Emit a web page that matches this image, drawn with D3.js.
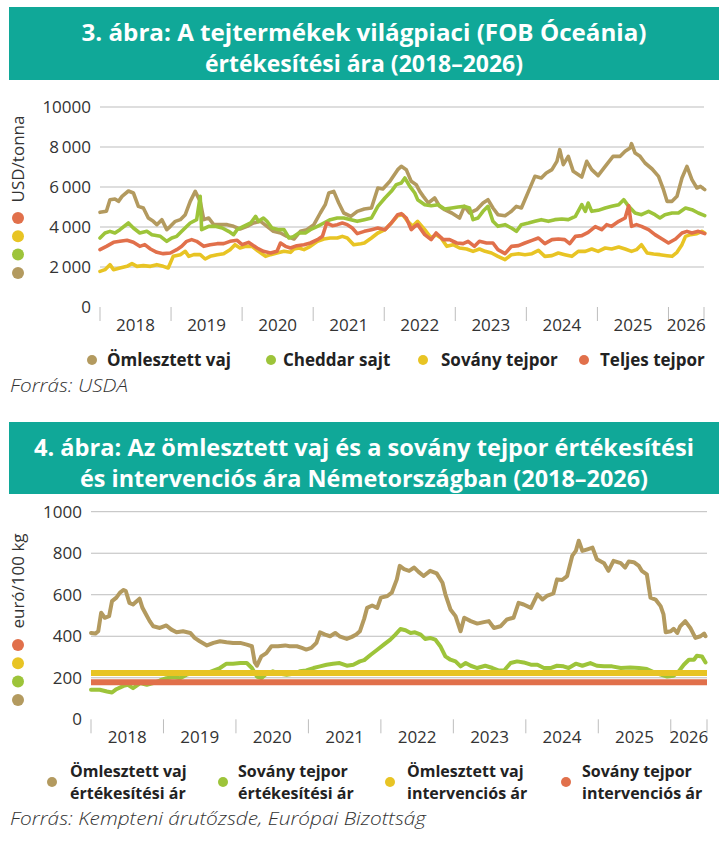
<!DOCTYPE html>
<html>
<head>
<meta charset="utf-8">
<script src="https://cdn.jsdelivr.net/npm/d3@7"></script>
<style>
body { margin: 0; background: #fff; }
text { font-family: "Open Sans", "DejaVu Sans", sans-serif; }
</style>
</head>
<body>
<svg id="page" width="728" height="855"></svg>
<script>
// szinek
var colBrown = "#b39a5f", colGreen = "#9dc43a", colYellow = "#e8c424", colRed = "#e1704b";
var teal = "#10a898";

// evek (x tengely), t = 2018 ota eltelt evek
var yearLabels = ["2018", "2019", "2020", "2021", "2022", "2023", "2024", "2025", "2026"];
var yearTicks = [0, 1, 2, 3, 4, 5, 6, 7, 8, 8.5];

// 3. abra - USD/tonna
var yTicks1 = [0, 2000, 4000, 6000, 8000, 10000];
var yTickLabels1 = ["0", "2\u2009000", "4\u2009000", "6\u2009000", "8\u2009000", "10000"];
var legend1 = ["Ömlesztett vaj", "Cheddar sajt", "Sovány tejpor", "Teljes tejpor"];

var vajFob = [[0.00,4733],[0.09,4783],[0.14,5367],[0.21,5400],[0.26,5283],[0.31,5533],[0.40,5800],[0.47,5700],[0.54,5033],[0.61,4950],[0.68,4450],[0.75,4283],[0.80,4117],[0.87,4367],[0.94,3867],[0.99,4033],[1.06,4283],[1.13,4367],[1.20,4617],[1.27,5283],[1.34,5783],[1.41,5283],[1.46,4367],[1.53,4450],[1.60,4117],[1.69,4117],[1.79,4117],[1.88,4033],[1.97,3900],[2.07,4033],[2.16,4200],[2.26,4283],[2.35,4033],[2.44,3783],[2.54,3700],[2.63,3533],[2.73,3400],[2.82,3783],[2.91,3867],[3.01,4117],[3.10,4700],[3.17,5117],[3.22,5700],[3.29,5783],[3.36,5200],[3.43,4700],[3.53,4533],[3.62,4783],[3.72,4900],[3.82,4950],[3.91,5950],[3.98,5900],[4.08,6283],[4.19,6867],[4.24,7033],[4.31,6867],[4.38,6283],[4.45,6117],[4.50,5783],[4.55,5533],[4.62,5200],[4.71,5450],[4.78,5033],[4.85,4867],[4.95,4700],[5.06,4450],[5.13,5033],[5.20,4700],[5.30,4867],[5.39,5200],[5.46,5367],[5.53,4950],[5.60,4617],[5.70,4567],[5.79,4783],[5.86,5033],[5.93,4950],[6.03,5783],[6.12,6533],[6.21,6450],[6.28,6700],[6.36,6867],[6.43,7283],[6.47,7867],[6.52,7117],[6.59,7533],[6.66,6783],[6.78,6500],[6.85,7283],[6.92,6867],[7.01,6567],[7.11,7033],[7.22,7533],[7.32,7533],[7.39,7783],[7.46,7950],[7.48,8167],[7.53,7700],[7.60,7533],[7.67,7200],[7.77,6900],[7.86,6533],[7.93,5867],[7.98,5283],[8.05,5283],[8.12,5533],[8.19,6450],[8.26,7033],[8.33,6367],[8.40,5950],[8.45,6033],[8.51,5867]];

var cheddar = [[0.00,3450],[0.07,3700],[0.14,3783],[0.21,3700],[0.28,3867],[0.40,4200],[0.47,3950],[0.56,3700],[0.66,3783],[0.73,3617],[0.85,3533],[0.94,3283],[1.01,3450],[1.08,3533],[1.15,3783],[1.27,4200],[1.36,4367],[1.41,5533],[1.43,3867],[1.53,4033],[1.62,4033],[1.72,3950],[1.81,3783],[1.88,3617],[1.93,3867],[2.02,4033],[2.12,4200],[2.19,4533],[2.23,4283],[2.30,4450],[2.35,4283],[2.42,3950],[2.52,3867],[2.59,3867],[2.66,3450],[2.73,3533],[2.80,3700],[2.89,3700],[2.96,3867],[3.06,4033],[3.15,4200],[3.24,4367],[3.34,4450],[3.43,4450],[3.53,4367],[3.62,4283],[3.72,4367],[3.82,4450],[3.91,5033],[4.01,5450],[4.10,5783],[4.17,6117],[4.24,6200],[4.29,6450],[4.36,6033],[4.43,5700],[4.47,5367],[4.57,5117],[4.66,5067],[4.76,5117],[4.85,4900],[4.95,4950],[5.04,5000],[5.13,5033],[5.20,4950],[5.25,4367],[5.32,4450],[5.39,4783],[5.46,5033],[5.53,4283],[5.60,4033],[5.70,4117],[5.79,3950],[5.86,3783],[5.93,4117],[6.03,4200],[6.12,4283],[6.21,4367],[6.31,4283],[6.40,4367],[6.50,4400],[6.59,4367],[6.69,4533],[6.78,5117],[6.83,4783],[6.87,5200],[6.92,4783],[7.01,4833],[7.11,4950],[7.20,5033],[7.30,5117],[7.37,5367],[7.44,5033],[7.53,4700],[7.62,4617],[7.72,4783],[7.81,4617],[7.88,4450],[7.95,4617],[8.05,4700],[8.14,4700],[8.24,4950],[8.33,4867],[8.42,4700],[8.51,4567]];

var sovanyFob = [[0.00,1783],[0.07,1867],[0.14,2117],[0.19,1867],[0.28,1950],[0.38,2033],[0.45,2167],[0.52,2033],[0.61,2067],[0.71,2033],[0.80,2117],[0.89,2033],[0.96,1950],[1.03,2533],[1.13,2617],[1.20,2783],[1.25,2533],[1.32,2617],[1.41,2617],[1.48,2400],[1.55,2533],[1.65,2617],[1.74,2667],[1.83,2867],[1.90,3117],[1.97,2950],[2.05,3033],[2.14,3033],[2.23,2783],[2.33,2533],[2.40,2617],[2.49,2700],[2.59,2783],[2.68,2733],[2.73,2900],[2.80,2950],[2.87,2867],[2.96,3033],[3.06,3283],[3.15,3400],[3.24,3450],[3.34,3450],[3.41,3533],[3.48,3450],[3.57,3117],[3.67,3167],[3.72,3200],[3.82,3450],[3.91,3700],[4.01,3867],[4.10,4200],[4.19,4567],[4.26,4617],[4.33,4283],[4.40,4033],[4.47,4283],[4.57,3867],[4.66,3450],[4.73,3617],[4.80,3450],[4.88,3033],[4.97,3117],[5.06,2950],[5.16,2900],[5.25,2783],[5.34,2900],[5.42,2783],[5.51,2700],[5.60,2533],[5.70,2367],[5.79,2617],[5.89,2667],[5.98,2617],[6.08,2667],[6.17,2833],[6.26,2533],[6.36,2567],[6.45,2700],[6.54,2617],[6.64,2533],[6.73,2783],[6.83,2783],[6.92,2900],[7.01,2783],[7.11,2950],[7.20,2900],[7.30,3000],[7.39,2900],[7.48,2783],[7.55,2867],[7.62,3117],[7.70,2700],[7.79,2650],[7.88,2617],[7.98,2567],[8.05,2533],[8.12,2733],[8.19,3117],[8.24,3533],[8.31,3617],[8.40,3667],[8.47,3783],[8.51,3700]];

var teljesFob = [[0.00,2867],[0.09,3033],[0.19,3233],[0.28,3283],[0.38,3333],[0.47,3233],[0.56,3033],[0.63,3117],[0.71,2900],[0.80,2733],[0.89,2667],[0.99,2700],[1.08,2867],[1.15,3033],[1.22,3283],[1.29,3367],[1.36,3283],[1.46,3033],[1.55,3117],[1.65,3167],[1.74,3167],[1.83,3283],[1.93,3333],[2.00,3117],[2.09,3233],[2.21,2950],[2.30,2783],[2.40,2700],[2.49,2783],[2.54,3200],[2.61,3033],[2.68,2950],[2.77,3067],[2.87,3117],[2.96,3200],[3.06,3367],[3.13,3533],[3.19,4200],[3.27,4067],[3.34,4117],[3.41,4200],[3.48,4117],[3.55,3950],[3.62,3667],[3.72,3783],[3.82,3867],[3.91,3950],[4.01,3867],[4.10,4200],[4.19,4617],[4.24,4667],[4.31,4450],[4.38,3867],[4.43,4033],[4.47,4117],[4.57,3617],[4.66,3367],[4.73,3700],[4.83,3367],[4.92,3367],[5.02,3200],[5.11,3167],[5.18,3283],[5.27,3033],[5.34,3283],[5.44,3200],[5.53,3200],[5.60,2867],[5.70,2667],[5.79,3033],[5.89,3067],[5.98,3200],[6.08,3333],[6.17,3450],[6.26,3167],[6.36,3367],[6.45,3400],[6.54,3367],[6.61,3167],[6.69,3533],[6.78,3567],[6.87,3733],[6.97,4017],[7.06,3867],[7.13,4117],[7.20,4033],[7.30,4283],[7.39,4450],[7.44,5067],[7.48,4033],[7.55,4117],[7.62,4033],[7.72,3867],[7.81,3617],[7.91,3400],[8.00,3200],[8.10,3400],[8.19,3700],[8.26,3783],[8.33,3700],[8.42,3783],[8.51,3667]];

// 4. abra - euro/100 kg
var yTicks2 = [0, 200, 400, 600, 800, 1000];
var yTickLabels2 = ["0", "200", "400", "600", "800", "1000"];
var legend2 = [["Ömlesztett vaj", "értékesítési ár"], ["Sovány tejpor", "értékesítési ár"], ["Ömlesztett vaj", "intervenciós ár"], ["Sovány tejpor", "intervenciós ár"]];

var vajDe = [[0.00,416],[0.06,413],[0.10,424],[0.14,513],[0.19,489],[0.25,497],[0.29,569],[0.35,586],[0.40,610],[0.45,623],[0.48,618],[0.53,561],[0.58,553],[0.63,569],[0.67,581],[0.71,537],[0.76,505],[0.81,473],[0.86,448],[0.95,440],[1.04,452],[1.11,432],[1.18,419],[1.27,424],[1.37,416],[1.43,392],[1.50,376],[1.60,356],[1.69,368],[1.78,376],[1.87,371],[1.96,368],[2.06,368],[2.15,360],[2.22,352],[2.26,274],[2.29,258],[2.35,303],[2.42,319],[2.49,352],[2.58,352],[2.68,356],[2.74,352],[2.84,352],[2.91,344],[2.97,336],[3.04,344],[3.11,368],[3.16,419],[3.23,408],[3.30,400],[3.37,416],[3.43,400],[3.53,387],[3.60,397],[3.66,408],[3.71,424],[3.77,485],[3.81,537],[3.88,548],[3.95,537],[4.00,586],[4.09,594],[4.15,610],[4.22,674],[4.26,739],[4.32,723],[4.39,715],[4.46,731],[4.52,710],[4.59,690],[4.68,715],[4.77,703],[4.85,658],[4.89,602],[4.96,529],[5.03,497],[5.10,424],[5.15,489],[5.24,473],[5.33,461],[5.42,468],[5.49,473],[5.56,440],[5.65,448],[5.74,481],[5.83,489],[5.90,561],[5.97,553],[6.07,537],[6.16,602],[6.23,577],[6.29,594],[6.38,606],[6.43,674],[6.50,671],[6.57,690],[6.64,787],[6.69,811],[6.73,860],[6.78,811],[6.85,819],[6.92,827],[6.98,771],[7.08,752],[7.14,715],[7.21,763],[7.31,752],[7.37,731],[7.42,760],[7.49,757],[7.56,739],[7.60,715],[7.67,698],[7.72,586],[7.79,577],[7.86,545],[7.90,505],[7.93,419],[8.00,424],[8.04,436],[8.09,416],[8.13,448],[8.20,473],[8.27,440],[8.34,392],[8.41,400],[8.46,413],[8.48,400]];

var sovanyDe = [[0.00,142],[0.12,142],[0.22,134],[0.29,129],[0.35,145],[0.45,161],[0.51,166],[0.58,150],[0.68,174],[0.77,166],[0.86,174],[0.95,187],[1.04,198],[1.14,203],[1.23,198],[1.32,215],[1.41,223],[1.50,219],[1.60,223],[1.69,235],[1.78,247],[1.87,268],[1.96,268],[2.06,271],[2.15,271],[2.22,247],[2.29,206],[2.35,198],[2.42,219],[2.51,231],[2.61,219],[2.70,215],[2.79,219],[2.88,231],[2.97,235],[3.07,247],[3.16,255],[3.25,263],[3.34,268],[3.43,271],[3.53,258],[3.62,263],[3.71,279],[3.77,285],[3.86,311],[3.95,335],[4.04,360],[4.13,384],[4.20,408],[4.27,435],[4.34,429],[4.41,416],[4.47,419],[4.55,408],[4.61,387],[4.68,392],[4.75,384],[4.82,352],[4.89,303],[4.96,287],[5.03,279],[5.10,255],[5.17,271],[5.24,258],[5.33,247],[5.44,258],[5.54,247],[5.63,235],[5.70,235],[5.79,271],[5.88,279],[5.97,274],[6.07,263],[6.16,263],[6.25,247],[6.34,247],[6.43,258],[6.52,255],[6.59,247],[6.69,268],[6.78,258],[6.89,271],[6.98,258],[7.08,255],[7.19,255],[7.31,247],[7.44,250],[7.56,247],[7.67,242],[7.77,226],[7.86,215],[7.95,206],[8.04,210],[8.11,231],[8.18,263],[8.25,287],[8.32,287],[8.36,306],[8.43,303],[8.48,274]];

var vajIntervencio = [[0, 223], [8.5, 223]];
var sovanyIntervencio = [[0, 179], [8.5, 179]];

var svg = d3.select("#page");

// fejlec savok
function drawBanner(y, h, lines, widths) {
    svg.append("rect")
        .attr("x", 9).attr("y", y)
        .attr("width", 710).attr("height", h)
        .attr("fill", teal);
    lines.forEach(function (t, i) {
        svg.append("text")
            .attr("x", 364)
            .attr("y", y + 26 + i * 31)
            .attr("dy", "0.35em")
            .attr("text-anchor", "middle")
            .attr("fill", "#fff")
            .attr("font-size", 24)
            .attr("font-weight", 700)
            .attr("textLength", widths[i])
            .attr("lengthAdjust", "spacingAndGlyphs")
            .text(t);
    });
}

function drawChart(cfg) {
    var x = d3.scaleLinear().domain([0, 8.5]).range([cfg.left, cfg.right]);
    var y = d3.scaleLinear().domain([0, cfg.max]).range([cfg.bottom, cfg.top]);
    var g = svg.append("g");

    // racsvonalak
    g.selectAll("line.grid")
        .data(cfg.yTicks.filter(function (d) { return d > 0; }))
        .enter().append("line")
        .attr("x1", cfg.left).attr("x2", cfg.right)
        .attr("y1", function (d) { return y(d); })
        .attr("y2", function (d) { return y(d); })
        .attr("stroke", "#bdbdbd").attr("stroke-width", 1);

    g.selectAll("text.ytick")
        .data(cfg.yTicks)
        .enter().append("text")
        .attr("x", cfg.left - 9)
        .attr("y", function (d) { return y(d); })
        .attr("dy", "0.35em")
        .attr("text-anchor", "end")
        .attr("font-size", 17)
        .attr("fill", "#333")
        .text(function (d, i) { return cfg.yLabels[i]; });

    // ev elvalaszto jelek
    g.selectAll("line.xtick")
        .data(yearTicks)
        .enter().append("line")
        .attr("x1", function (d) { return x(d); })
        .attr("x2", function (d) { return x(d); })
        .attr("y1", cfg.bottom).attr("y2", cfg.bottom + 14)
        .attr("stroke", "#bdbdbd").attr("stroke-width", 1);

    g.selectAll("text.year")
        .data(yearLabels)
        .enter().append("text")
        .attr("x", function (d, i) { return x((yearTicks[i] + yearTicks[i + 1]) / 2); })
        .attr("y", cfg.bottom + 18)
        .attr("dy", "0.35em")
        .attr("text-anchor", "middle")
        .attr("font-size", 17)
        .attr("fill", "#333")
        .text(function (d) { return d; });

    var line = d3.line()
        .x(function (d) { return x(d[0]); })
        .y(function (d) { return y(d[1]); })
        .curve(d3.curveLinear);

    cfg.series.forEach(function (s) {
        g.append("path")
            .datum(s.data)
            .attr("d", line)
            .attr("fill", "none")
            .attr("stroke", s.color)
            .attr("stroke-width", s.width)
            .attr("stroke-linejoin", "round")
            .attr("stroke-linecap", s.cap || "round");
    });

    // y tengely felirat es pottyok
    g.append("text")
        .attr("transform", "translate(18," + cfg.titleY + ") rotate(-90)")
        .attr("dy", "0.35em")
        .attr("text-anchor", "middle")
        .attr("font-size", 17)
        .attr("fill", "#333")
        .text(cfg.yTitle);

    g.selectAll("circle.ydot")
        .data([colRed, colYellow, colGreen, colBrown])
        .enter().append("circle")
        .attr("cx", 18)
        .attr("cy", function (d, i) { return cfg.dotY + i * 18.3; })
        .attr("r", 6)
        .attr("fill", function (d) { return d; });
}

drawBanner(7, 73, ["3. ábra: A tejtermékek világpiaci (FOB Óceánia)", "értékesítési ára (2018–2026)"], [565, 318]);
drawBanner(422, 72, ["4. ábra: Az ömlesztett vaj és a sovány tejpor értékesítési", "és intervenciós ára Németországban (2018–2026)"], [660, 568]);

drawChart({
    left: 100, right: 704, top: 107, bottom: 307, max: 10000,
    yTicks: yTicks1, yLabels: yTickLabels1,
    yTitle: "USD/tonna", titleY: 159, dotY: 218,
    series: [
        {data: vajFob, color: colBrown, width: 3.6},
        {data: cheddar, color: colGreen, width: 3.6},
        {data: sovanyFob, color: colYellow, width: 3.6},
        {data: teljesFob, color: colRed, width: 3.6}
    ]
});

drawChart({
    left: 91, right: 707, top: 511.7, bottom: 719.3, max: 1000,
    yTicks: yTicks2, yLabels: yTickLabels2,
    yTitle: "euró/100 kg", titleY: 581, dotY: 645,
    series: [
        {data: vajDe, color: colBrown, width: 4},
        {data: sovanyDe, color: colGreen, width: 4},
        {data: vajIntervencio, color: colYellow, width: 6, cap: "butt"},
        {data: sovanyIntervencio, color: colRed, width: 6, cap: "butt"}
    ]
});

// jelmagyarazat 1
var leg1 = svg.append("g");
var leg1Pos = [[92, 107], [271, 283], [423, 441], [584, 600]];
[colBrown, colGreen, colYellow, colRed].forEach(function (c, i) {
    leg1.append("circle").attr("cx", leg1Pos[i][0]).attr("cy", 360).attr("r", 5).attr("fill", c);
    leg1.append("text")
        .attr("x", leg1Pos[i][1]).attr("y", 360).attr("dy", "0.35em")
        .attr("font-size", 17).attr("font-weight", 700).attr("fill", "#222")
        .text(legend1[i]);
});

svg.append("text")
    .attr("x", 10).attr("y", 386).attr("dy", "0.35em")
    .attr("font-size", 18).attr("font-style", "italic").attr("font-weight", 300).attr("fill", "#333")
    .attr("textLength", 118).attr("lengthAdjust", "spacingAndGlyphs")
    .text("Forrás: USDA");

// jelmagyarazat 2
var leg2 = svg.append("g");
var leg2Pos = [[52, 70], [223, 238], [390, 407], [566, 582]];
[colBrown, colGreen, colYellow, colRed].forEach(function (c, i) {
    leg2.append("circle").attr("cx", leg2Pos[i][0]).attr("cy", 782).attr("r", 5).attr("fill", c);
    legend2[i].forEach(function (t, j) {
        leg2.append("text")
            .attr("x", leg2Pos[i][1]).attr("y", 771 + j * 22).attr("dy", "0.35em")
            .attr("font-size", 16).attr("font-weight", 700).attr("fill", "#222")
            .text(t);
    });
});

svg.append("text")
    .attr("x", 10).attr("y", 819).attr("dy", "0.35em")
    .attr("font-size", 18).attr("font-style", "italic").attr("font-weight", 300).attr("fill", "#333")
    .attr("textLength", 416).attr("lengthAdjust", "spacingAndGlyphs")
    .text("Forrás: Kempteni árutőzsde, Európai Bizottság");
</script>
</body>
</html>
